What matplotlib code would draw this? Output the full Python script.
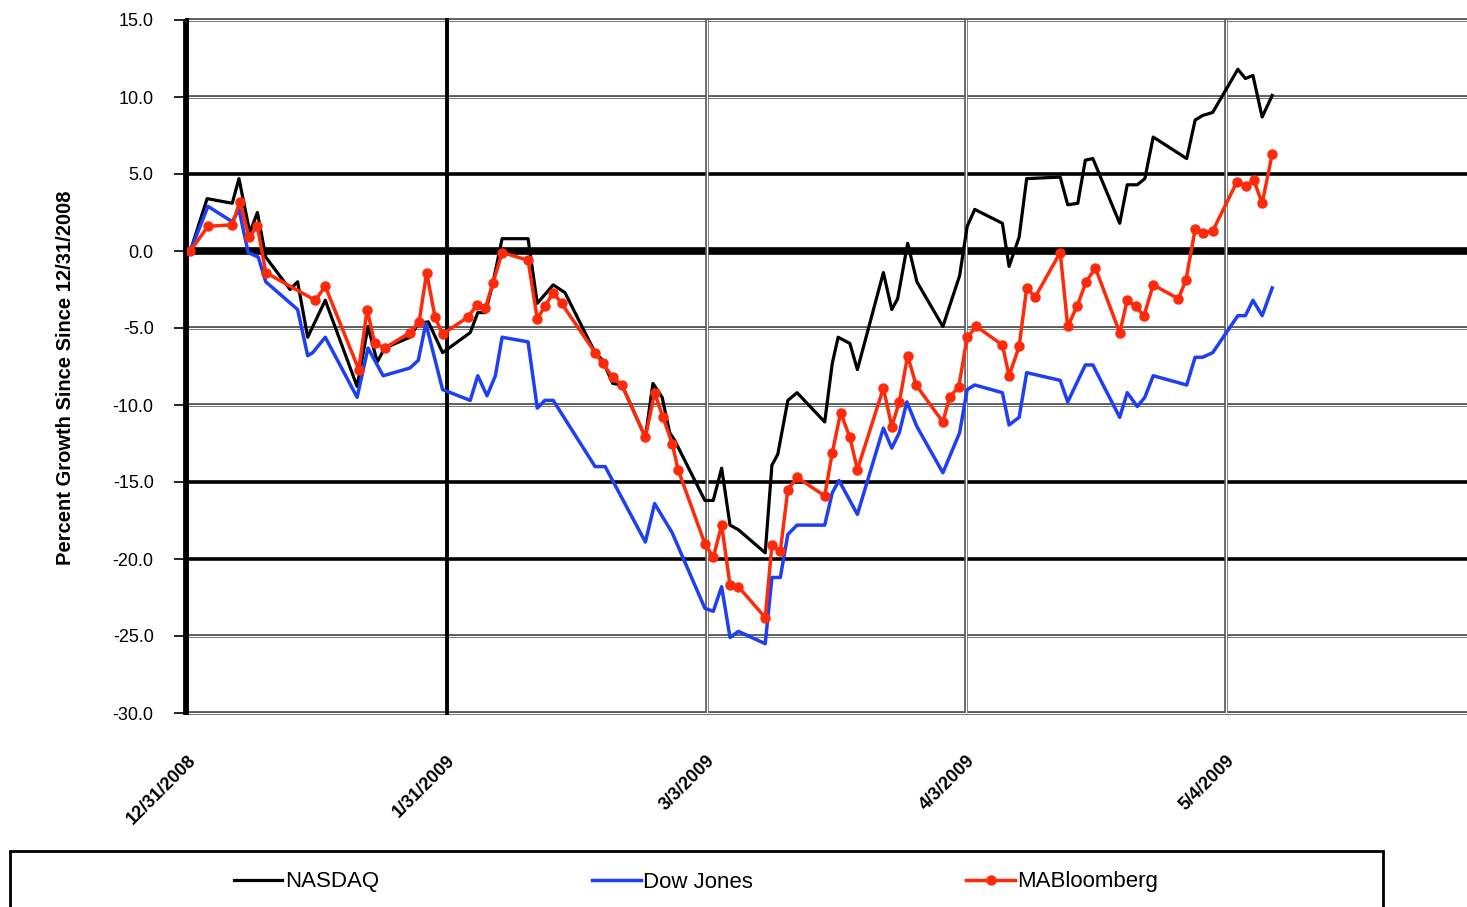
import matplotlib
matplotlib.use("Agg")
import matplotlib.pyplot as plt
from matplotlib.patches import Rectangle

plt.rcParams['font.family'] = ['Liberation Sans', 'DejaVu Sans']

# days since 12/31/2008, and percent growth since then
nasdaq_days = [0.4, 2.4, 5.4, 6.2, 7.5, 8.4, 9.4, 12.3, 13.2, 14.4, 16.5, 20.3, 21.6, 22.7,
               23.6, 26.6, 27.6, 28.8, 30.5, 33.8, 34.7, 35.6, 36.5, 37.6, 40.7, 41.8, 43.7,
               45.1, 48.7, 49.6, 50.8, 51.9, 54.7, 55.6, 56.7, 57.6, 58.2, 61.8, 62.8, 63.8,
               64.8, 65.8, 69.0, 69.8, 70.5, 71.7, 72.8, 76.1, 77.0, 77.7, 79.1, 80.0, 83.1,
               84.1, 84.8, 86.0, 87.1, 90.2, 92.2, 93.1, 94.0, 97.3, 98.1, 99.3, 100.2, 104.2,
               105.1, 106.3, 107.2, 108.1, 111.3, 112.2, 113.4, 114.3, 115.3, 119.3, 120.3,
               121.2, 122.4, 125.4, 126.3, 127.2, 128.3, 129.5]
nasdaq = [0.0, 3.4, 3.1, 4.7, 1.2, 2.5, -0.4, -2.5, -2.0, -5.6, -3.2, -8.8, -4.9, -7.2,
          -6.3, -5.6, -4.7, -4.6, -6.6, -5.3, -4.0, -4.0, -2.1, 0.8, 0.8, -3.4, -2.2,
          -2.7, -6.6, -7.1, -8.6, -8.7, -12.1, -8.6, -9.5, -11.8, -12.3, -16.2, -16.2, -14.1,
          -17.8, -18.1, -19.6, -13.9, -13.2, -9.7, -9.2, -11.1, -7.3, -5.6, -6.0, -7.7, -1.4,
          -3.8, -3.1, 0.5, -2.0, -4.9, -1.6, 1.6, 2.7, 1.8, -1.0, 0.9, 4.7, 4.8,
          3.0, 3.1, 5.9, 6.0, 1.8, 4.3, 4.3, 4.7, 7.4, 6.0, 8.5,
          8.8, 9.0, 11.8, 11.2, 11.4, 8.7, 10.1]

dow_days = [0.4, 2.5, 5.4, 6.2, 7.3, 8.5, 9.4, 13.2, 14.4, 15.0, 16.5, 20.3, 21.6, 23.4,
            26.6, 27.6, 28.5, 30.5, 33.8, 34.7, 35.8, 36.8, 37.6, 40.7, 41.8, 42.7, 43.7,
            48.7, 49.9, 54.7, 55.8, 57.9, 61.8, 62.8, 63.8, 64.8, 65.8, 69.0, 69.8, 70.8,
            71.7, 72.8, 76.1, 77.0, 77.8, 78.9, 80.0, 83.1, 84.1, 85.0, 85.9, 87.1, 90.2,
            92.2, 93.1, 94.0, 97.3, 98.1, 99.3, 100.2, 104.2, 105.1, 107.2, 108.1, 111.3,
            112.2, 113.4, 114.3, 115.3, 119.3, 120.3, 121.2, 122.4, 125.4, 126.3, 127.2,
            128.3, 129.5]
dow = [0.0, 2.9, 1.9, 2.7, -0.1, -0.4, -2.0, -3.8, -6.8, -6.6, -5.6, -9.5, -6.3, -8.1,
       -7.6, -7.1, -4.7, -9.0, -9.7, -8.1, -9.4, -8.1, -5.6, -5.9, -10.2, -9.7, -9.7,
       -14.0, -14.0, -18.9, -16.4, -18.3, -23.2, -23.4, -21.8, -25.1, -24.7, -25.5, -21.2, -21.2,
       -18.4, -17.8, -17.8, -15.7, -14.9, -16.0, -17.1, -11.5, -12.8, -11.8, -9.8, -11.4, -14.4,
       -11.8, -9.0, -8.7, -9.2, -11.3, -10.8, -7.9, -8.4, -9.8, -7.4, -7.4, -10.8,
       -9.2, -10.1, -9.5, -8.1, -8.7, -6.9, -6.9, -6.6, -4.2, -4.2, -3.2,
       -4.2, -2.4]

mab_days = [0.4, 2.5, 5.4, 6.3, 7.4, 8.4, 9.4, 15.3, 16.5, 20.5, 21.5, 22.4, 23.6, 26.6,
            27.7, 28.6, 29.6, 30.5, 33.5, 34.6, 35.6, 36.5, 37.6, 40.7, 41.8, 42.7, 43.7,
            44.7, 48.7, 49.6, 50.8, 51.9, 54.7, 55.8, 56.8, 57.9, 58.6, 61.8, 62.8, 63.8,
            64.8, 65.8, 69.0, 69.8, 70.8, 71.7, 72.8, 76.1, 77.0, 78.0, 79.1, 80.0, 83.1,
            84.1, 85.0, 86.0, 87.0, 90.2, 91.0, 92.1, 93.1, 94.2, 97.3, 98.1, 99.3, 100.2,
            101.2, 104.2, 105.1, 106.2, 107.3, 108.4, 111.3, 112.2, 113.2, 114.2, 115.3,
            118.3, 119.2, 120.3, 121.3, 122.4, 125.3, 126.4, 127.3, 128.3, 129.5]
mab = [0.0, 1.6, 1.7, 3.2, 0.9, 1.6, -1.4, -3.2, -2.3, -7.7, -3.8, -6.0, -6.3, -5.3,
       -4.6, -1.4, -4.3, -5.4, -4.3, -3.5, -3.7, -2.1, -0.1, -0.6, -4.4, -3.6, -2.7,
       -3.4, -6.6, -7.3, -8.2, -8.7, -12.1, -9.2, -10.8, -12.5, -14.2, -19.0, -19.9, -17.8,
       -21.7, -21.8, -23.8, -19.1, -19.5, -15.5, -14.7, -15.9, -13.1, -10.5, -12.1, -14.2, -8.9,
       -11.4, -9.8, -6.8, -8.7, -11.1, -9.5, -8.8, -5.6, -4.9, -6.1, -8.1, -6.2, -2.4,
       -3.0, -0.1, -4.9, -3.6, -2.0, -1.1, -5.3, -3.2, -3.6, -4.2, -2.2,
       -3.1, -1.9, 1.4, 1.2, 1.3, 4.5, 4.2, 4.6, 3.1, 6.3]

tick_days = [0, 31, 62, 93, 124]
tick_labels = ['12/31/2008', '1/31/2009', '3/3/2009', '4/3/2009', '5/4/2009']
y_ticks = [15, 10, 5, 0, -5, -10, -15, -20, -25, -30]

W, H = 1467, 907
fig = plt.figure(figsize=(W / 100, H / 100), dpi=100)
ax = fig.add_axes([187 / W, 1 - 713 / H, 1 - 187 / W, (713 - 20) / H])
ax.set_xlim(0, (W - 187) / 8.38)
ax.set_ylim(-30, 15)

# grid lines, drawn by hand to get the mixed thick / double look
thick_y = [5, -15, -20]
double_y = [15, 10, -5, -10, -25, -30]
for y in double_y:
    ax.axhline(y, color='#444444', lw=2.6, zorder=1, clip_on=False)
    ax.axhline(y, color='white', lw=0.9, zorder=1, clip_on=False)
for y in thick_y:
    ax.axhline(y, color='black', lw=2.6, zorder=1)
ax.axhline(0, color='black', lw=5.5, zorder=1)

for i, d in enumerate(tick_days):
    if i < 2:
        ax.axvline(d, color='black', lw=2.8, zorder=1, clip_on=False)
    else:
        ax.axvline(d, color='#555555', lw=2.6, zorder=1)
        ax.axvline(d, color='white', lw=0.9, zorder=1)

ax.plot(nasdaq_days, nasdaq, color='black', lw=2.3, zorder=3, label='NASDAQ')
ax.plot(dow_days, dow, color='#1f3ff5', lw=2.5, zorder=3, label='Dow Jones')
ax.plot(mab_days, mab, color='#ff2a0a', lw=2.5, marker='o', ms=6.5, zorder=4,
        label='MABloomberg')

for s in ['top', 'right', 'bottom']:
    ax.spines[s].set_visible(False)
ax.spines['left'].set_linewidth(2)
ax.spines['left'].set_position(('outward', 2))

ax.set_yticks(y_ticks)
ax.set_yticklabels(['%.1f' % v for v in y_ticks], fontsize=13)
ax.tick_params(axis='y', length=7, width=1.2, pad=15)
ax.set_xticks(tick_days)
ax.set_xticklabels(tick_labels, rotation=45, ha='right', rotation_mode='anchor',
                   fontsize=13, fontweight='bold')
ax.tick_params(axis='x', length=0, pad=28)

fig.text(66 / W, 1 - 378 / H, 'Percent Growth Since Since 12/31/2008', rotation=90,
         ha='center', va='center', fontsize=14.5, fontweight='bold')

# legend box at the bottom
fig.patches.append(Rectangle((10 / W, -0.02), (1383 - 10) / W, (907 - 851) / H + 0.02,
                             transform=fig.transFigure, fill=False, ec='black', lw=2))
handles, labels = ax.get_legend_handles_labels()
fig.legend(handles, labels, loc='center', bbox_to_anchor=(696 / W, 1 - 882 / H), ncol=3,
           frameon=False, fontsize=16, handlelength=2.2, handletextpad=0.1,
           columnspacing=9.6)

fig.savefig('out.png', dpi=100)
